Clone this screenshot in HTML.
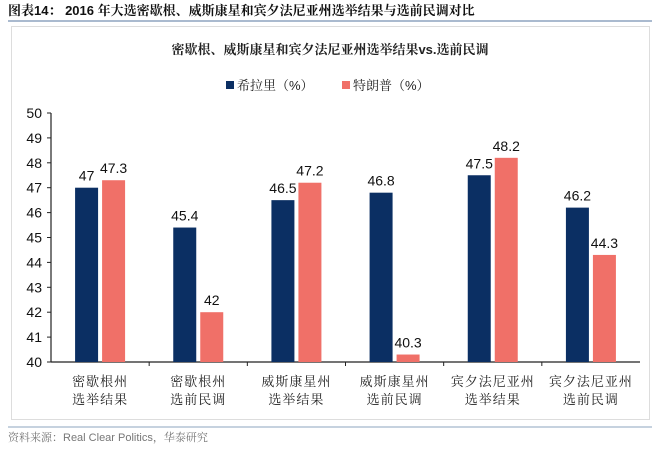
<!DOCTYPE html>
<html><head><meta charset="utf-8"><style>
body{margin:0;background:#fff;width:660px;height:449px;overflow:hidden;font-family:"Liberation Sans","Noto Serif CJK SC",serif;}
</style></head><body>
<svg width="660" height="449" font-family="Liberation Sans, Noto Serif CJK SC, serif">
<text x="8" y="15" font-size="13" font-weight="bold" fill="#111">图表14： 2016 年大选密歇根、威斯康星和宾夕法尼亚州选举结果与选前民调对比</text>
<line x1="8" y1="21" x2="652" y2="21" stroke="#8ea4bf" stroke-width="1.5"/>
<rect x="11.5" y="26.5" width="638" height="393" fill="#fff" stroke="#ddd"/>
<text x="330" y="54" text-anchor="middle" font-size="13" font-weight="bold" fill="#222">密歇根、威斯康星和宾夕法尼亚州选举结果vs.选前民调</text>
<g>
<rect x="226" y="81" width="8" height="8" fill="#0b2f63"/>
<text x="237" y="90" font-size="13" fill="#222">希拉里（%）</text>
<rect x="342" y="81" width="8" height="8" fill="#f07068"/>
<text x="353" y="90" font-size="13" fill="#222">特朗普（%）</text>
</g>
<g id="plot"></g>
<line x1="8" y1="427" x2="652" y2="427" stroke="#8ea4bf" stroke-width="1"/>
<text x="8" y="441" font-size="11" fill="#777">资料来源：Real Clear Politics，华泰研究</text>
</svg>
<script>
const categories=[["密歇根州","选举结果"],["密歇根州","选前民调"],["威斯康星州","选举结果"],["威斯康星州","选前民调"],["宾夕法尼亚州","选举结果"],["宾夕法尼亚州","选前民调"]];
const clinton=[47,45.4,46.5,46.8,47.5,46.2];
const trump=[47.3,42,47.2,40.3,48.2,44.3];
const yTicks=[40,41,42,43,44,45,46,47,48,49,50];
const NS="http://www.w3.org/2000/svg";
const g=document.getElementById('plot');
const x0=51,x1=640,yTop=113,yBot=362,ymin=40,ymax=50;
const y=v=>yBot-(v-ymin)/(ymax-ymin)*(yBot-yTop);
const bw=(x1-x0)/categories.length;
function mk(t,a,txt){const e=document.createElementNS(NS,t);for(const k in a)e.setAttribute(k,a[k]);if(txt!==undefined)e.textContent=txt;g.appendChild(e);return e;}
let e=mk('line',{x1:x0,y1:yTop,x2:x0,y2:yBot,stroke:'#222','stroke-width':1.2});


e=mk('line',{x1:x0,y1:yBot,x2:x1,y2:yBot,stroke:'#222','stroke-width':1.2});


yTicks.forEach(v=>{
 let t=mk('line',{x1:x0-4,y1:y(v),x2:x0,y2:y(v),stroke:'#222'});
 
 
 let l=mk('text',{x:x0-9,y:y(v)+5,'text-anchor':'end','font-size':14,fill:'#111'},v);
 
 
});
categories.forEach((c,i)=>{
 const cx=x0+bw*(i+0.5);
 if(i>0){let t=mk('line',{x1:x0+bw*i,y1:yBot,x2:x0+bw*i,y2:yBot+4,stroke:'#222'});
 
 }
 [[clinton[i],'#0b2f63',cx-25,'bar-clinton'],[trump[i],'#f07068',cx+2,'bar-trump']].forEach(([v,col,bx,nm])=>{
  let r=mk('rect',{x:bx,y:y(v),width:23,height:yBot-y(v),fill:col});
  
  
  let l=mk('text',{x:bx+11.5,y:y(v)-7,'text-anchor':'middle','font-size':14,fill:'#111'},v);
  
  
 });
 c.forEach((s,j)=>{
  let l=mk('text',{x:cx,y:386+j*18,'text-anchor':'middle','font-size':13,fill:'#222','letter-spacing':1},s);
  
  
 });
});
</script>
</body></html>
